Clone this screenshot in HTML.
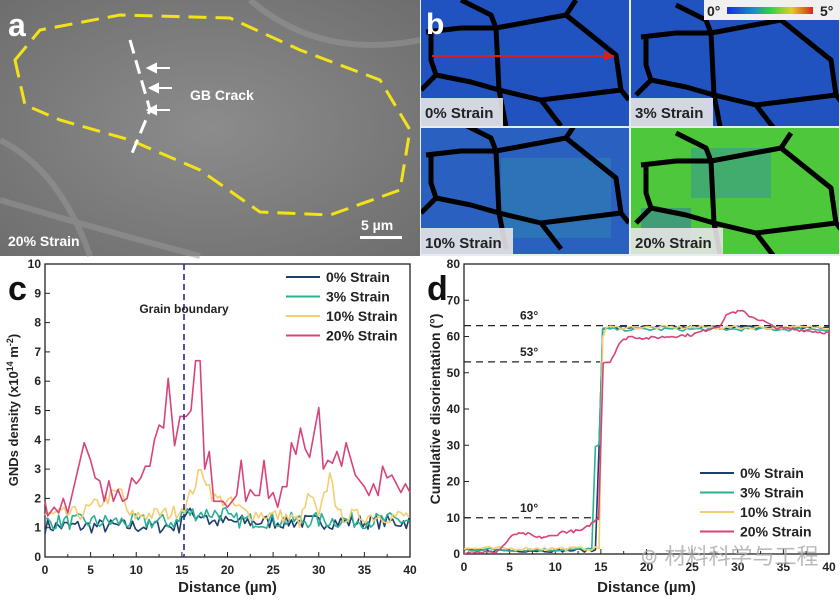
<!DOCTYPE html>
<html><head><meta charset="utf-8"><style>
body{margin:0;background:#fff;width:840px;height:600px;overflow:hidden}
svg{display:block;font-family:"Liberation Sans",Arial,sans-serif}
</style></head><body>
<svg id="s" width="840" height="600" viewBox="0 0 840 600" xmlns="http://www.w3.org/2000/svg">
<defs>
<radialGradient id="ga" cx="0.5" cy="0.5" r="0.7"><stop offset="0" stop-color="#8c8c8c"/><stop offset="1" stop-color="#6e6e6e"/></radialGradient>
<clipPath id="c1"><rect x="0" y="0" width="208" height="126"/></clipPath>
<linearGradient id="cb" x1="0" x2="1"><stop offset="0" stop-color="#1a2ed0"/><stop offset="0.3" stop-color="#1a8ad0"/><stop offset="0.5" stop-color="#30d040"/><stop offset="0.75" stop-color="#e0d020"/><stop offset="1" stop-color="#e02020"/></linearGradient>
<g id="net" fill="none" stroke="#000" stroke-width="5" stroke-linejoin="round">
<polyline points="40,0 70,15 75,28"/>
<polyline points="5,32 40,28 75,28 145,15 155,0"/>
<polyline points="75,28 78,90"/>
<polyline points="145,15 195,55 200,90 208,100"/>
<polyline points="10,32 10,60 15,75 0,90"/>
<polyline points="15,75 50,82 78,90 120,100 140,126"/>
<polyline points="120,100 160,95 200,90"/>
<polyline points="78,90 85,126"/>
</g>
</defs>
<!-- panel a -->
<rect x="0" y="0" width="420" height="256" fill="url(#ga)"/>
<path d="M0,200 Q100,230 200,256 M250,0 Q320,60 420,40 M0,140 Q60,170 90,256" stroke="#9a9a9a" stroke-width="6" fill="none" opacity="0.5"/>
<polygon points="15,60 40,30 120,15 230,18 300,50 380,80 410,130 400,190 330,215 260,212 200,170 130,140 60,120 25,105" fill="none" stroke="#f2e21a" stroke-width="3" stroke-dasharray="18,9"/>
<polyline points="130,40 150,110 130,158" fill="none" stroke="#fff" stroke-width="3" stroke-dasharray="14,7"/>
<g stroke="#fff" stroke-width="2" fill="#fff">
<line x1="170" y1="68" x2="150" y2="68"/><polygon points="148,68 156,64 156,72"/>
<line x1="172" y1="88" x2="152" y2="88"/><polygon points="150,88 158,84 158,92"/>
<line x1="170" y1="110" x2="150" y2="110"/><polygon points="148,110 156,106 156,114"/>
</g>
<text x="190" y="100" fill="#fff" font-size="14" font-weight="bold">GB Crack</text>
<text x="8" y="36" fill="#fff" font-size="32" font-weight="bold">a</text>
<text x="8" y="246" fill="#fff" font-size="14" font-weight="bold">20% Strain</text>
<text x="361" y="230" fill="#fff" font-size="14" font-weight="bold">5 µm</text>
<rect x="360" y="236" width="42" height="3" fill="#fff"/>
<!-- panel b -->
<rect x="420" y="0" width="420" height="256" fill="#e8ecef"/>
<g transform="translate(421,0)" clip-path="url(#c1)"><rect width="208" height="126" fill="#2153c0"/><use href="#net"/></g>
<g transform="translate(631,0)" clip-path="url(#c1)"><rect width="208" height="126" fill="#2153c0"/><use href="#net" transform="translate(5,5)"/></g>
<g transform="translate(421,128)" clip-path="url(#c1)"><rect width="208" height="126" fill="#2a60c0"/><rect x="80" y="30" width="110" height="80" fill="#2f80b0" opacity="0.6"/><use href="#net" transform="translate(0,-5)"/></g>
<g transform="translate(631,128)" clip-path="url(#c1)"><rect width="208" height="126" fill="#4cc83a"/><rect x="60" y="20" width="80" height="50" fill="#3a9a90" opacity="0.6"/><rect x="10" y="80" width="50" height="40" fill="#3a80a0" opacity="0.6"/><use href="#net" transform="translate(5,5)"/></g>
<polyline points="432,56 610,56" stroke="#d62020" stroke-width="2"/><polygon points="615,56 604,51 604,61" fill="#d62020"/>
<text x="426" y="34" fill="#fff" font-size="30" font-weight="bold">b</text>
<rect x="421" y="98" width="82" height="28" fill="#e6e6e6" opacity="0.9"/><text x="425" y="118" font-size="15" font-weight="bold" fill="#222">0% Strain</text>
<rect x="631" y="98" width="82" height="28" fill="#e6e6e6" opacity="0.9"/><text x="635" y="118" font-size="15" font-weight="bold" fill="#222">3% Strain</text>
<rect x="421" y="228" width="92" height="26" fill="#e6e6e6" opacity="0.9"/><text x="425" y="248" font-size="15" font-weight="bold" fill="#222">10% Strain</text>
<rect x="631" y="228" width="92" height="26" fill="#e6e6e6" opacity="0.9"/><text x="635" y="248" font-size="15" font-weight="bold" fill="#222">20% Strain</text>
<rect x="704" y="0" width="136" height="20" fill="#f0f0f0"/>
<text x="707" y="16" font-size="14" font-weight="bold" fill="#222">0°</text>
<rect x="727" y="7" width="86" height="7" fill="url(#cb)"/>
<text x="820" y="16" font-size="14" font-weight="bold" fill="#222">5°</text>
<g id="plots"></g>
</svg>
<script>
const NS="http://www.w3.org/2000/svg";const P=document.getElementById('plots');
function el(t,a,txt){const e=document.createElementNS(NS,t);for(const k in a)e.setAttribute(k,a[k]);if(txt!==undefined)e.textContent=txt;P.appendChild(e);return e;}
let seed=7;function rnd(){seed=(seed*16807)%2147483647;return seed/2147483647;}
function interp(k,x){for(let i=0;i<k.length-1;i++){if(x>=k[i][0]&&x<=k[i+1][0]){const t=(x-k[i][0])/(k[i+1][0]-k[i][0]);return k[i][1]+t*(k[i+1][1]-k[i][1]);}}return k[k.length-1][1];}
function axes(x0,x1,y0,y1,ymax,ystep,ylab,label){
 el('rect',{x:x0,y:y1,width:x1-x0,height:y0-y1,fill:'none',stroke:'#222','stroke-width':1.3});
 for(let v=0;v<=40;v+=5){const x=x0+(x1-x0)*v/40;el('line',{x1:x,y1:y0,x2:x,y2:y0-5,stroke:'#222'});el('text',{x:x,y:y0+17,'font-size':12,'font-weight':'bold','text-anchor':'middle',fill:'#222'},v);}
 for(let v=2.5;v<40;v+=5){const x=x0+(x1-x0)*v/40;el('line',{x1:x,y1:y0,x2:x,y2:y0-3,stroke:'#222'});}
 for(let v=0;v<=ymax+1e-9;v+=ystep){const y=y0-(y0-y1)*v/ymax;el('line',{x1:x0,y1:y,x2:x0+5,y2:y,stroke:'#222'});el('text',{x:x0-4,y:y+4,'font-size':12,'font-weight':'bold','text-anchor':'end',fill:'#222'},v);}
 el('text',{x:(x0+x1)/2,y:592,'font-size':15,'font-weight':'bold','text-anchor':'middle',fill:'#222'},'Distance (µm)');
 el('text',{x:x0-37,y:y1+36,'font-size':34,'font-weight':'bold',fill:'#111'},label);
}
function line(pts,x0,x1,y0,y1,ymax,col){el('polyline',{points:pts.map(p=>(x0+(x1-x0)*p[0]/40).toFixed(1)+','+(y0-(y0-y1)*p[1]/ymax).toFixed(1)).join(' '),fill:'none',stroke:col,'stroke-width':1.6,'stroke-linejoin':'round'});}
function legend(x,y,cols,names){for(let i=0;i<4;i++){el('line',{x1:x,y1:y+i*19.5,x2:x+34,y2:y+i*19.5,stroke:cols[i],'stroke-width':2});el('text',{x:x+40,y:y+i*19.5+5,'font-size':14,'font-weight':'bold',fill:'#222'},names[i]);}}
const cols=['#1d3d6b','#2bb096','#f3cf72','#d9437b'];const names=['0% Strain','3% Strain','10% Strain','20% Strain'];
// chart c
const cx0=45,cx1=410,cy0=557,cy1=264;
axes(cx0,cx1,cy0,cy1,10,1,'','c');
const t=el('text',{transform:'translate(18,410) rotate(-90)','font-size':13,'font-weight':'bold','text-anchor':'middle',fill:'#222'});
t.innerHTML='GNDs density (x10<tspan dy="-5" font-size="9">14</tspan><tspan dy="5"> m</tspan><tspan dy="-5" font-size="9">-2</tspan><tspan dy="5">)</tspan>';
const k20=[[0,1.9],[0.3,1.4],[1,1.7],[1.5,1.5],[2,2.0],[2.5,1.5],[4.3,3.9],[5,3.3],[5.5,2.7],[6,2.6],[6.5,1.9],[7,2.6],[7.5,1.9],[8,2.3],[8.5,1.9],[9,2.0],[9.5,2.7],[10,2.5],[10.5,2.7],[11,3.1],[11.5,3.1],[12,4.0],[12.5,4.5],[13,4.4],[13.5,6.1],[14.2,3.8],[14.8,4.8],[15.5,4.8],[16,5.0],[16.5,6.7],[17,6.7],[17.5,3.0],[18,3.6],[18.5,1.9],[19.5,1.9],[20,1.7],[21,2.1],[21.5,3.3],[22,1.9],[22.5,2.3],[23,2.1],[23.5,2.1],[24,3.3],[24.5,2.0],[25,2.2],[25.5,1.7],[26,2.4],[26.5,2.4],[27,3.9],[27.5,3.5],[28,4.4],[28.5,3.7],[29,3.4],[30,5.1],[30.5,3.0],[31,3.3],[31.5,3.2],[32,3.6],[32.5,3.1],[33,3.9],[34,2.8],[35,2.4],[35.5,2.1],[36,2.5],[36.5,2.1],[37,3.1],[37.5,2.7],[38,2.8],[39,2.2],[39.5,2.5],[40,2.2]];
const k10=[[0,1.4],[4,1.5],[8.5,2.3],[9,1.4],[14,1.5],[15.5,1.8],[17,2.9],[17.5,2.8],[18.5,2.0],[20,1.9],[22,1.5],[26,1.4],[28,1.2],[29,2.2],[30,1.3],[31.4,3.0],[32,1.4],[36,1.4],[40,1.4]];
function noisy(base,amp,step){const a=[];for(let x=0;x<=40.001;x+=step)a.push([x,base(x)+(rnd()-0.5)*amp]);return a;}
line(noisy(x=>x<15?1.05:(x<18?1.45:1.2),0.5,0.3),cx0,cx1,cy0,cy1,10,cols[0]);
line(noisy(x=>x<15?1.2:(x<20?1.5:1.25),0.55,0.3),cx0,cx1,cy0,cy1,10,cols[1]);
line(noisy(x=>interp(k10,x),0.5,0.3),cx0,cx1,cy0,cy1,10,cols[2]);
line(k20,cx0,cx1,cy0,cy1,10,cols[3]);
el('line',{x1:184,y1:264,x2:184,y2:557,stroke:'#2a2a9a','stroke-width':1.6,'stroke-dasharray':'6,4'});
el('text',{x:184,y:313,'font-size':12,'font-weight':'bold','text-anchor':'middle',fill:'#222'},'Grain boundary');
legend(286,277,cols,names);
// chart d
const dx0=464,dx1=829,dy0=554,dy1=264;
axes(dx0,dx1,dy0,dy1,80,10,'','d');
el('text',{transform:'translate(440,409) rotate(-90)','font-size':14,'font-weight':'bold','text-anchor':'middle',fill:'#222'},'Cumulative disorientation (°)');
function dash(v,x2,lab,lx){const y=dy0-(dy0-dy1)*v/80;el('line',{x1:dx0,y1:y,x2:x2,y2:y,stroke:'#222','stroke-width':1.3,'stroke-dasharray':'7,5'});el('text',{x:lx,y:y-6,'font-size':12,'font-weight':'bold',fill:'#222'},lab);}
dash(63,829,'63°',520);dash(53,600,'53°',520);dash(10,600,'10°',520);
const s0=noisy(x=>x<14.8?1:(x<15.2?30:62.5),1,0.4);
const s1=noisy(x=>x<14.4?1.2:(x<15?30:62),1,0.4);
const s2=noisy(x=>x<14.9?1.5:(x<15.3?60:62.5),1,0.4);
const k2=[[0,0.5],[3.5,0.5],[4,1.5],[5.5,5.5],[7,5.5],[8,4.5],[10,5],[10.5,6],[13,6.5],[14,8.5],[14.8,10],[15.2,53],[16,53],[17,58],[18,60],[20,59.5],[25,60.5],[28,63],[29,66.5],[30.5,67],[31,66],[33,64],[34,62.5],[36,62],[40,61]];
line(s0,dx0,dx1,dy0,dy1,80,cols[0]);line(s1,dx0,dx1,dy0,dy1,80,cols[1]);line(s2,dx0,dx1,dy0,dy1,80,cols[2]);
line(noisy(x=>interp(k2,x),0.8,0.25),dx0,dx1,dy0,dy1,80,cols[3]);
legend(700,473,cols,names);
el('text',{x:640,y:564,'font-size':22,fill:'#aaa','font-family':'"Liberation Sans","Noto Sans CJK SC",sans-serif',opacity:0.8},'⊚ 材料科学与工程');
</script>
</body></html>
